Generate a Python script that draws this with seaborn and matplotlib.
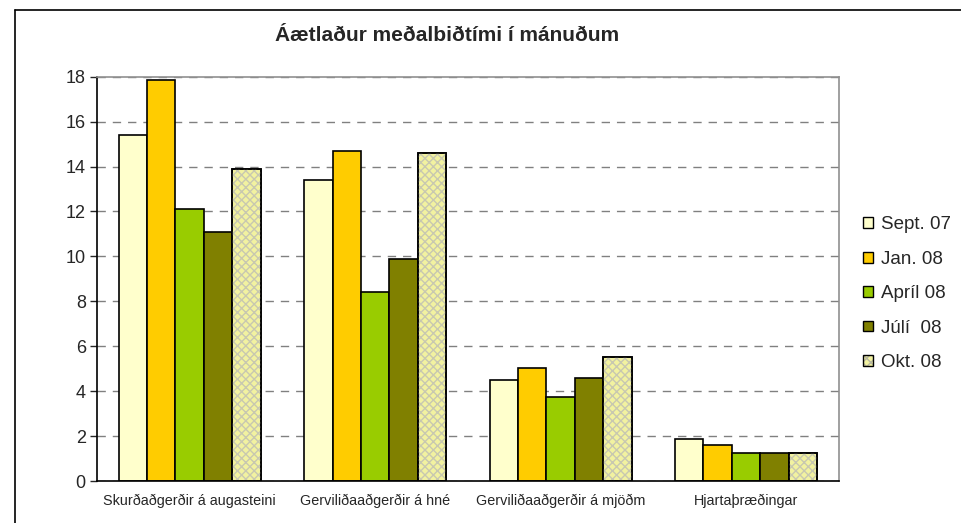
import numpy as np
import pandas as pd
import matplotlib
matplotlib.use('Agg')
import matplotlib.pyplot as plt
import seaborn as sns
from matplotlib.patches import Rectangle
from matplotlib.colors import to_rgba

categories = ['Skurðaðgerðir á augasteini', 'Gerviliðaaðgerðir á hné',
              'Gerviliðaaðgerðir á mjöðm', 'Hjartaþræðingar']
periods = ['Sept. 07', 'Jan. 08', 'Apríl 08', 'Júlí  08', 'Okt. 08']
sept07 = [15.4, 13.4, 4.5, 1.85]
jan08 = [17.85, 14.7, 5.05, 1.6]
april08 = [12.1, 8.4, 3.75, 1.25]
juli08 = [11.1, 9.9, 4.6, 1.25]
okt08 = [13.9, 14.6, 5.5, 1.25]
colors = ['#ffffcc', '#ffcc00', '#99cc00', '#808000', '#f2f2a0']

df = pd.DataFrame({'flokkur': categories * 5,
                   'tímabil': np.repeat(periods, 4),
                   'mánuðir': sept07 + jan08 + april08 + juli08 + okt08})

sns.set_style('white')
plt.rcParams['font.family'] = ['Liberation Sans', 'DejaVu Sans']

fig = plt.figure(figsize=(9.61, 5.23), dpi=100)
ax = fig.add_axes([0.1009, 0.0803, 0.772, 0.773])

sns.barplot(data=df, x='flokkur', y='mánuðir', hue='tímabil', hue_order=periods,
            palette=colors, width=0.766, edgecolor='black', linewidth=1.2,
            saturation=1, ax=ax, legend=True)

# crosshatch on the Okt. 08 bars, grey hatch under a black outline
okt_bars = ax.containers[4]
for p in okt_bars:
    ax.add_patch(Rectangle(p.get_xy(), p.get_width(), p.get_height(),
                           facecolor='none', edgecolor='#c8c8b0', hatch='xxxx',
                           linewidth=0, zorder=p.get_zorder() + 0.1))
    ax.add_patch(Rectangle(p.get_xy(), p.get_width(), p.get_height(),
                           facecolor='none', edgecolor='black', linewidth=1.2,
                           zorder=p.get_zorder() + 0.2))

ax.set_ylim(0, 18)
ax.set_yticks(range(0, 19, 2))
ax.set_xlim(-0.5, 3.5)
ax.yaxis.grid(True, linestyle=(0, (6, 5)), color='#808080', linewidth=1)
ax.set_axisbelow(True)
ax.set_xlabel('')
ax.set_ylabel('')
ax.tick_params(axis='y', labelsize=13, length=5, width=1, left=True, direction='out', pad=3)
ax.tick_params(axis='x', labelsize=10.4, length=0, pad=9)

for s in ['left', 'bottom']:
    ax.spines[s].set_color('black')
    ax.spines[s].set_linewidth(1.2)
for s in ['top', 'right']:
    ax.spines[s].set_color('#909090')
    ax.spines[s].set_linewidth(1.2)

fig.text(0.465, 0.933, 'Áætlaður meðalbiðtími í mánuðum', ha='center', va='center',
         fontsize=15, fontweight='bold')

leg = ax.legend(loc='center left', bbox_to_anchor=(1.01, 0.463), frameon=False,
                fontsize=13.5, handlelength=0.5, handleheight=0.5,
                handletextpad=0.45, labelspacing=0.93)
for h in leg.legend_handles:
    h.set_linewidth(1)
okt_handle = leg.legend_handles[4]
okt_handle.set_hatch('xxxx')
okt_handle._hatch_color = to_rgba('#b8b8a0')

# outer frame (left and top edges visible)
fig.add_artist(plt.Line2D([0.0156, 0.0156], [0, 0.981], color='black', lw=1.2,
                          transform=fig.transFigure))
fig.add_artist(plt.Line2D([0.0156, 1], [0.981, 0.981], color='black', lw=1.2,
                          transform=fig.transFigure))

fig.savefig('out.png', dpi=100)
